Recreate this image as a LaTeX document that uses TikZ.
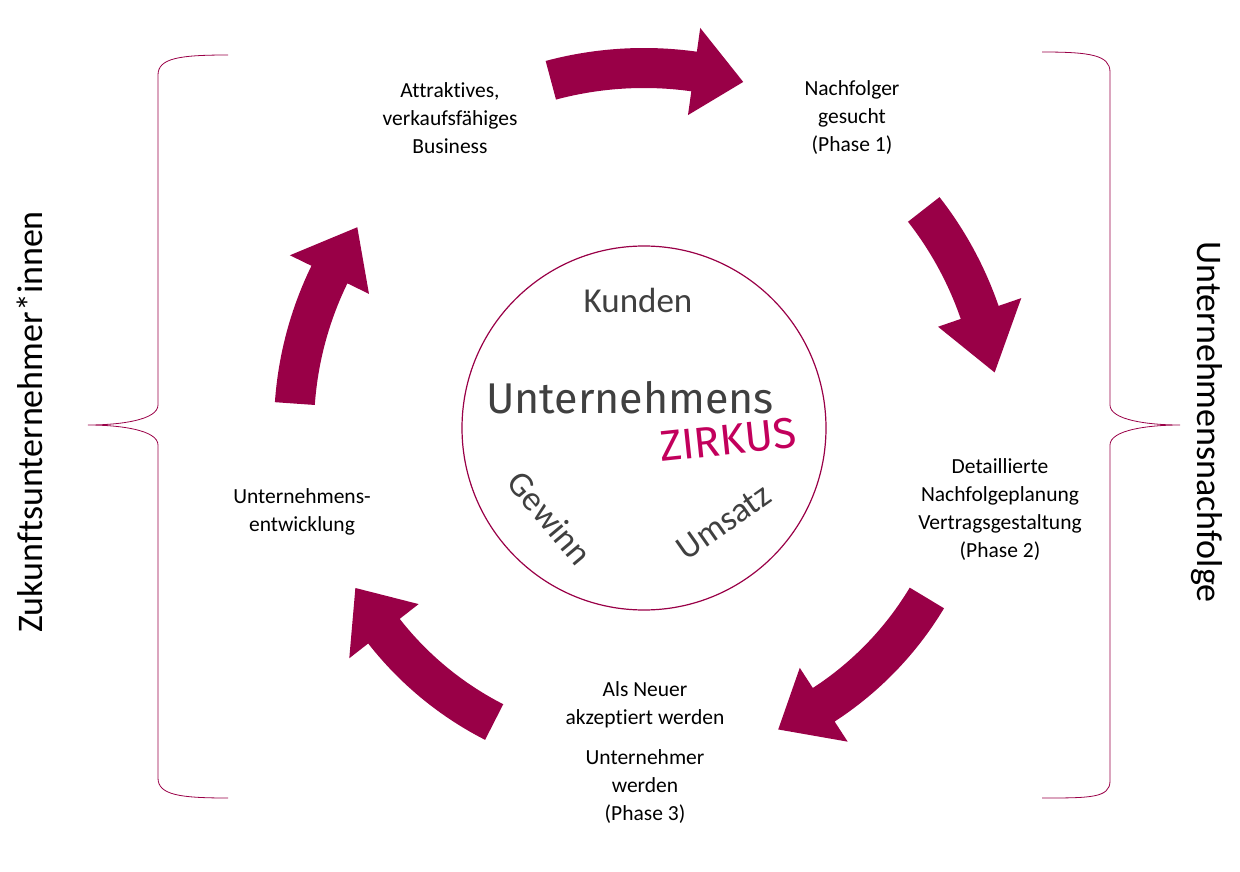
\documentclass[tikz,border=0pt]{standalone}
\usepackage{fontspec}
\setmainfont{Carlito}[Ligatures=NoCommon]
\newfontfamily\logofont{Fira Sans}
\usetikzlibrary{calc}
\definecolor{wine}{HTML}{990047}
\definecolor{txtgray}{HTML}{404040}
\definecolor{zirk}{HTML}{C2005C}
\tikzset{
  arr/.style={fill=wine},
  lbl/.style={align=center,font=\fontsize{21.5}{28}\selectfont,text=black},
  side/.style={font=\fontsize{36}{40}\selectfont},
  brace/.style={draw=wine,line width=0.8pt},
}
\newcommand\cycarrow[6]{%
\fill[arr] ($(C)+({#2}:{#1+#5/2})$) arc[start angle=#2,end angle=#3,radius={#1+#5/2}]
 -- ($(C)+({#3}:{#1+#6/2})$) -- ($(C)+({#4}:{#1})$) -- ($(C)+({#3}:{#1-#6/2})$)
 -- ($(C)+({#3}:{#1-#5/2})$) arc[start angle=#3,end angle=#2,radius={#1-#5/2}] -- cycle;}
\begin{document}
\begin{tikzpicture}[x=1pt,y=-1pt]
\useasboundingbox (0,0) rectangle (1240,872);
\coordinate (C) at (644,428);
\draw[wine,line width=1.2pt] (C) circle[radius=182];
% arrows
\cycarrow{360}{-105}{-82}{-74}{40}{88}
\cycarrow{355}{-38}{-19}{-9}{40}{88}
\cycarrow{330}{31}{57}{66}{40}{88}
\cycarrow{330}{117}{142}{151}{40}{88}
\cycarrow{350}{184}{206}{215}{40}{88}
% braces
\draw[brace] (228,55) .. controls (180,55) and (158,58) .. (158,75) -- (158,405)
  .. controls (158,420) and (120,425) .. (88,425)
  .. controls (120,425) and (158,430) .. (158,445) -- (158,778)
  .. controls (158,795) and (180,798) .. (228,798);
\draw[brace] (1042,52) .. controls (1090,52) and (1110,55) .. (1110,72) -- (1110,405)
  .. controls (1110,420) and (1148,425) .. (1180,425)
  .. controls (1148,425) and (1110,430) .. (1110,445) -- (1110,781)
  .. controls (1110,798) and (1090,798) .. (1042,798);
\node[rotate=90,side] (zl) at (30,422) {Zukunftsunternehmer*innen};
\node[rotate=-90,side] (zr) at (1207,422) {Unternehmensnachfolge};
% labels
\node[lbl] (l1) at (450,118) {Attraktives,\\verkaufsfähiges\\Business};
\node[lbl] (l2) at (852,118) {Nachfolger\\gesucht\\(Phase 1)};
\node[lbl] (l3) at (1000,510) {Detaillierte\\Nachfolgeplanung\\Vertragsgestaltung\\(Phase 2)};
\node[lbl] (l4) at (302,512) {Unternehmens-\\entwicklung};
\node[lbl] (l5) at (645,705) {Als Neuer\\akzeptiert werden};
\node[lbl] (l6) at (645,787) {Unternehmer\\werden\\(Phase 3)};
% center
\node[text=txtgray,font=\fontsize{35}{40}\selectfont] (ku) at (638,300) {Kunden};
\node[text=txtgray,font=\logofont\fontsize{43}{50}\selectfont] (un) at (630,398) {Unternehmens};
\node[text=zirk,font=\logofont\fontsize{43}{50}\selectfont,rotate=6] (zi) at (728,440) {ZIRKUS};
\node[text=txtgray,font=\fontsize{35}{40}\selectfont,rotate=-50] (ge) at (550,518) {Gewinn};
\node[text=txtgray,font=\fontsize{35}{40}\selectfont,rotate=35] (um) at (724,522) {Umsatz};
\end{tikzpicture}
\end{document}
